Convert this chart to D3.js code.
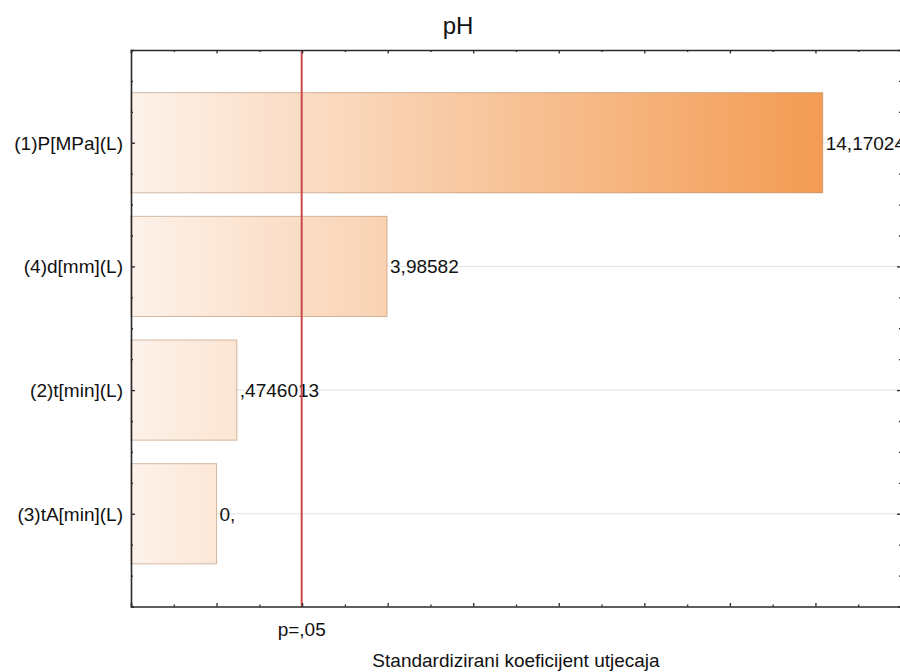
<!DOCTYPE html>
<html lang="en">
<head>
    <meta charset="UTF-8">
    <title>pH</title>
    <script src="https://cdn.jsdelivr.net/npm/d3@7"></script>
    <style>
    html, body { margin: 0; padding: 0; background: #fff; }
    svg { display: block; font-family: "Liberation Sans", Arial, sans-serif; }
    </style>
</head>
<body>
    <div class="marco"></div>

    <script>
    // data
    var efekti = ["(1)P[MPa](L)", "(4)d[mm](L)", "(2)t[min](L)", "(3)tA[min](L)"],
        vrijednosti = [14.17024, 3.98582, 0.4746013, 0],
        oznake = ["14,17024", "3,98582", ",4746013", "0,"],
        pKriticno = 1.99,
        naslov = "pH",
        xNaslov = "Standardizirani koeficijent utjecaja",
        pOznaka = "p=,05";

    var width = 900, height = 672,
        margin = { top: 50, left: 131, right: 0, bottom: 65.5 };

    var svg = d3.select(".marco").append("svg")
        .attr("width", width)
        .attr("height", height);

    var x = d3.scaleLinear().domain([-2, 16]).range([margin.left, 901]),
        y = d3.scaleLinear().domain([0.25, 4.75]).range([margin.top, height - margin.bottom]);

    var korak = y(2) - y(1),
        visinaBarra = korak * 0.81;

    // gradijent preko cijele sirine
    var grad = svg.append("defs").append("linearGradient")
        .attr("id", "narancasta")
        .attr("gradientUnits", "userSpaceOnUse")
        .attr("x1", x(-2)).attr("x2", x(14.2))
        .attr("y1", 0).attr("y2", 0);
    grad.append("stop").attr("offset", "0%").attr("stop-color", "#fdf2ea");
    grad.append("stop").attr("offset", "100%").attr("stop-color", "#f39b52");

    // horizontalne linije mreze
    svg.append("g").selectAll("line")
        .data(efekti)
        .enter().append("line")
        .attr("x1", x(-2)).attr("x2", x(16))
        .attr("y1", (d, i) => y(i + 1)).attr("y2", (d, i) => y(i + 1))
        .attr("stroke", "#e2e2e2")
        .attr("stroke-width", 1);

    // barovi
    svg.append("g").selectAll("rect")
        .data(vrijednosti)
        .enter().append("rect")
        .attr("x", x(-2))
        .attr("y", (d, i) => y(i + 1) - visinaBarra / 2)
        .attr("width", d => x(d) - x(-2))
        .attr("height", visinaBarra)
        .attr("fill", "url(#narancasta)")
        .attr("stroke", "rgba(160,110,70,0.45)")
        .attr("stroke-width", 1);

    // vrijednosti uz barove
    svg.append("g").selectAll("text")
        .data(vrijednosti)
        .enter().append("text")
        .attr("x", d => x(d) + 3)
        .attr("y", (d, i) => y(i + 1))
        .attr("dy", "0.36em")
        .attr("font-size", 19)
        .attr("fill", "#111")
        .text((d, i) => oznake[i]);

    // p=,05 linija
    svg.append("line")
        .attr("x1", x(pKriticno)).attr("x2", x(pKriticno))
        .attr("y1", y(0.25)).attr("y2", y(4.75))
        .attr("stroke", "#c9494a")
        .attr("stroke-width", 2);

    // osi
    var xTicks = d3.range(-2, 17, 1),
        yTicks = d3.range(0.5, 4.75, 0.25);

    function osX(os) {
        return os.tickValues(xTicks).tickFormat("").tickSizeOuter(0)
            .tickSize(3);
    }
    function osY(os) {
        return os.tickValues(yTicks).tickFormat("").tickSizeOuter(0)
            .tickSize(3);
    }

    var dolje = svg.append("g")
        .attr("transform", `translate(0, ${y(4.75)})`)
        .call(osX(d3.axisTop(x)));
    var gore = svg.append("g")
        .attr("transform", `translate(0, ${y(0.25)})`)
        .call(osX(d3.axisBottom(x)));
    var lijevo = svg.append("g")
        .attr("transform", `translate(${x(-2)}, 0)`)
        .call(osY(d3.axisRight(y)));
    var desno = svg.append("g")
        .attr("transform", `translate(${x(16)}, 0)`)
        .call(osY(d3.axisLeft(y)));

    [dolje, gore, lijevo, desno].forEach(g => {
        g.select(".domain").attr("stroke", "#2a2a2a").attr("stroke-width", 1.6);
        g.selectAll(".tick line").attr("stroke", "#2a2a2a").attr("stroke-width", 1.3);
    });
    // manje crtice
    dolje.selectAll(".tick line").attr("y2", d => d % 2 === 0 ? -3.5 : -2);
    gore.selectAll(".tick line").attr("y2", d => d % 2 === 0 ? 3.5 : 2);
    lijevo.selectAll(".tick line").attr("x2", d => d % 1 === 0 ? 4 : 2);
    desno.selectAll(".tick line").attr("x2", d => d % 1 === 0 ? -4 : -2);

    // nazivi efekata
    svg.append("g").selectAll("text")
        .data(efekti)
        .enter().append("text")
        .attr("x", x(-2) - 8)
        .attr("y", (d, i) => y(i + 1))
        .attr("dy", "0.36em")
        .attr("text-anchor", "end")
        .attr("font-size", 19)
        .attr("fill", "#111")
        .text(d => d);

    // p oznaka
    svg.append("text")
        .attr("x", x(pKriticno))
        .attr("y", 636)
        .attr("text-anchor", "middle")
        .attr("font-size", 19)
        .attr("fill", "#111")
        .text(pOznaka);

    // naslovi
    svg.append("text")
        .attr("x", 458)
        .attr("y", 34)
        .attr("text-anchor", "middle")
        .attr("font-size", 24)
        .attr("fill", "#111")
        .text(naslov);

    svg.append("text")
        .attr("x", (x(-2) + x(16)) / 2)
        .attr("y", 667)
        .attr("text-anchor", "middle")
        .attr("font-size", 19)
        .attr("fill", "#111")
        .text(xNaslov);
    </script>
</body>
</html>
